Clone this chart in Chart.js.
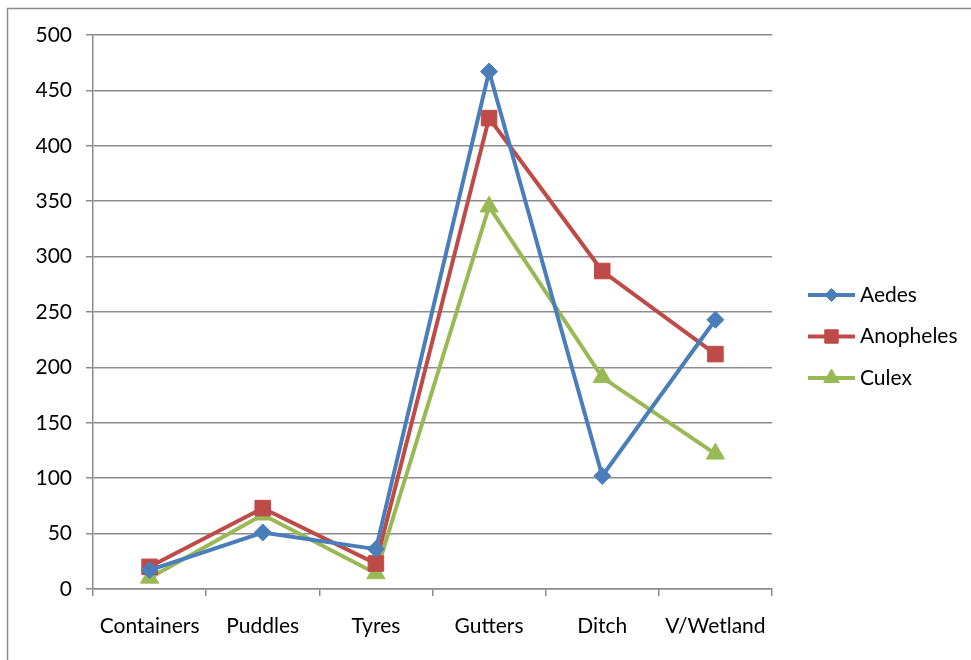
<!DOCTYPE html>
<html>
<head>
<meta charset="utf-8">
<script src="https://cdn.jsdelivr.net/npm/chart.js@4/dist/chart.umd.min.js"></script>
<style>
  html, body { margin: 0; padding: 0; background: #fff; }
  #wrap { position: relative; width: 971px; height: 660px; }
</style>
</head>
<body>
<div id="wrap"><canvas id="c" width="971" height="660"></canvas></div>
<script>
const categories = ["Containers", "Puddles", "Tyres", "Gutters", "Ditch", "V/Wetland"];
const aedes = [17, 51, 36, 467, 102, 243];
const anopheles = [20, 73, 23, 425, 287, 212];
const culex = [10, 67, 14, 345, 191, 122];
const seriesNames = ["Aedes", "Anopheles", "Culex"];
const yTicks = [0, 50, 100, 150, 200, 250, 300, 350, 400, 450, 500];

const FONT = "Lato, 'Open Sans', sans-serif";
const FONT_SIZE = 21;
const colors = ["#4A7EBB", "#BE4B48", "#98B954"];
const styles = ["rectRot", "rect", "triangle"];
const radii = [8.5, 11, 10.5];
const legendRadii = [6.5, 9.5, 9];

function ds(label, data, i) {
  return {
    label, data,
    borderColor: colors[i], backgroundColor: colors[i],
    borderWidth: 4, pointStyle: styles[i], pointRadius: radii[i],
    pointBorderWidth: 1, pointBorderColor: colors[i], pointBackgroundColor: colors[i],
    tension: 0
  };
}

const framePlugin = {
  id: 'frame',
  beforeDraw(chart) {
    const ctx = chart.ctx;
    ctx.save();
    ctx.fillStyle = '#fff';
    ctx.fillRect(0, 0, chart.width, chart.height);
    ctx.strokeStyle = '#8c8c8c';
    ctx.lineWidth = 1.5;
    ctx.strokeRect(7.5, 8.5, 1100, 800);
    ctx.restore();
  },
  afterDraw(chart) {
    const ctx = chart.ctx;
    ctx.save();
    const ys = [295, 336.5, 378];
    chart.data.datasets.forEach((d, i) => {
      const y = ys[i];
      ctx.strokeStyle = d.borderColor;
      ctx.lineWidth = 4;
      ctx.beginPath();
      ctx.moveTo(808, y);
      ctx.lineTo(855, y);
      ctx.stroke();
      ctx.fillStyle = d.borderColor;
      ctx.lineWidth = 1;
      Chart.helpers.drawPoint(ctx, { pointStyle: styles[i], radius: legendRadii[i], borderWidth: 1 }, 831.5, y);
      ctx.fillStyle = '#000';
      ctx.font = FONT_SIZE + "px " + FONT;
      ctx.textBaseline = 'middle';
      ctx.textAlign = 'left';
      ctx.fillText(d.label, 860, y);
    });
    ctx.restore();
  }
};

new Chart(document.getElementById('c'), {
  type: 'line',
  data: {
    labels: categories,
    datasets: [ds(seriesNames[0], aedes, 0), ds(seriesNames[1], anopheles, 1), ds(seriesNames[2], culex, 2)]
  },
  plugins: [framePlugin],
  options: {
    responsive: false,
    animation: false,
    layout: { padding: { top: 35, right: 199, bottom: 0, left: 0 } },
    plugins: { legend: { display: false }, tooltip: { enabled: false } },
    scales: {
      x: {
        type: 'category',
        offset: true,
        grid: { offset: true, drawOnChartArea: false, drawTicks: true, tickLength: 7, color: '#8c8c8c', lineWidth: 1.5 },
        border: { color: '#8c8c8c', width: 1.5 },
        ticks: { color: '#000', font: { family: FONT, size: FONT_SIZE }, padding: 18, maxRotation: 0, autoSkip: false },
        afterFit(s) { s.height = 71; }
      },
      y: {
        min: 0, max: 500,
        afterBuildTicks(s) { s.ticks = yTicks.map(v => ({ value: v })); },
        grid: { color: '#8c8c8c', lineWidth: 1.5, drawTicks: true, tickLength: 7 },
        border: { color: '#8c8c8c', width: 1.5 },
        ticks: { color: '#000', font: { family: FONT, size: FONT_SIZE }, padding: 14 },
        afterFit(s) { s.width = 93; }
      }
    }
  }
});
</script>
</body>
</html>
